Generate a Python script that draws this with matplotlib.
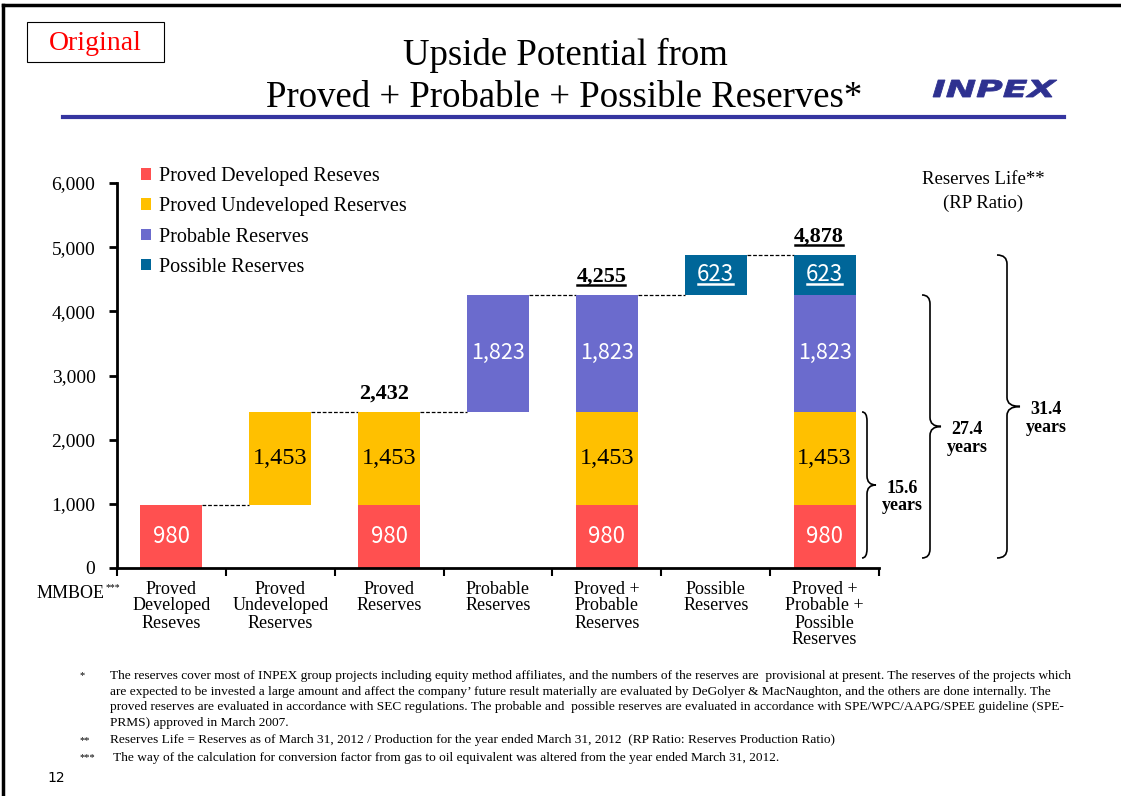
import numpy as np
import matplotlib
matplotlib.use("Agg")
import matplotlib.pyplot as plt
import matplotlib.transforms as mtransforms
from matplotlib.patches import Patch, Rectangle, PathPatch
from matplotlib.path import Path
from matplotlib.textpath import TextPath
from matplotlib.font_manager import FontProperties
from matplotlib.lines import Line2D
from matplotlib.ticker import StrMethodFormatter, FixedLocator

W, H = 1121, 796

# reserves by category, MMBOE
categories = ["Proved\nDeveloped\nReseves", "Proved\nUndeveloped\nReserves",
              "Proved\nReserves", "Probable\nReserves",
              "Proved +\nProbable\nReserves", "Possible\nReserves",
              "Proved +\nProbable +\nPossible\nReserves"]
developed = [980, 0, 980, 0, 980, 0, 980]
undeveloped = [0, 1453, 1453, 0, 1453, 0, 1453]
probable = [0, 0, 0, 1823, 1823, 0, 1823]
possible = [0, 0, 0, 0, 0, 623, 623]
floating = [False, True, False, True, False, True, False]

series_names = ["Proved Developed Reseves", "Proved Undeveloped Reserves",
                "Probable Reserves", "Possible Reserves"]
series_colors = ["#FF5050", "#FFC000", "#6B6BCD", "#006699"]

# subtotals written above the stacked bars
subtotal_idx = [2, 4, 6]
subtotal_values = [2432, 4255, 4878]
subtotal_underline = [False, True, True]

# reserves life (RP ratio) for each subtotal
life_years = [15.6, 27.4, 31.4]

footnotes = [
    ("*", ["The reserves cover most of INPEX group projects including equity method affiliates, and the numbers of the reserves are  provisional at present. The reserves of the projects which",
           "are expected to be invested a large amount and affect the company\u2019 future result materially are evaluated by DeGolyer & MacNaughton, and the others are done internally. The",
           "proved reserves are evaluated in accordance with SEC regulations. The probable and  possible reserves are evaluated in accordance with SPE/WPC/AAPG/SPEE guideline (SPE-",
           "PRMS) approved in March 2007."]),
    ("**", ["Reserves Life = Reserves as of March 31, 2012 / Production for the year ended March 31, 2012  (RP Ratio: Reserves Production Ratio)"]),
    ("***", [" The way of the calculation for conversion factor from gas to oil equivalent was altered from the year ended March 31, 2012."]),
]

SERIF = "Liberation Serif"
SANS = ["Noto Sans CJK JP", "DejaVu Sans"]
plt.rcParams["font.family"] = [SERIF, "DejaVu Serif"]


def fx(x):
    return x / W


def fy(y):
    return 1 - y / H


fig = plt.figure(figsize=(W / 100, H / 100), dpi=100)
ax = fig.add_axes([fx(117), fy(568), fx(879) - fx(117), fy(183) - fy(568)])

x = np.arange(len(categories))
width = 0.57
series = [np.array(developed), np.array(undeveloped), np.array(probable), np.array(possible)]

# floating bars start where the previous bar ends
base = np.zeros(len(x))
tops = np.zeros(len(x))
prev_top = 0
for i in range(len(x)):
    base[i] = prev_top if floating[i] else 0
    tops[i] = base[i] + sum(s[i] for s in series)
    prev_top = tops[i]

label_styles = [
    dict(color="white", family=SANS, fontsize=16),
    dict(color="black", family=SERIF, fontsize=17.5),
    dict(color="white", family=SANS, fontsize=15.5),
    dict(color="white", family=SANS, fontsize=16),
]
underline_texts = []

bottom = base.copy()
for vals, color, style, k in zip(series, series_colors, label_styles, range(4)):
    ax.bar(x, vals, width, bottom=bottom, color=color, zorder=2)
    for i in x:
        if vals[i] > 0:
            t = ax.text(i, bottom[i] + vals[i] / 2, f"{vals[i]:,}",
                        ha="center", va="center", zorder=3, **style)
            if k == 3:
                underline_texts.append((t, "white"))
    bottom = bottom + vals

# dashed connectors between consecutive bars
for i in range(len(x) - 1):
    ax.plot([i + width / 2, i + 1 - width / 2], [tops[i], tops[i]],
            color="black", lw=0.9, ls=(0, (3, 1.5)), zorder=1)

for i, v, ul in zip(subtotal_idx, subtotal_values, subtotal_underline):
    t = ax.text(i - 0.05, tops[i] + 280, f"{v:,}", ha="center", va="center",
                fontsize=16, fontweight="bold")
    if ul:
        underline_texts.append((t, "black"))

ax.set_xlim(-0.5, len(x) - 0.5)
ax.set_ylim(0, 6000)
ax.spines[["top", "right"]].set_visible(False)
for s in ["left", "bottom"]:
    ax.spines[s].set_linewidth(2)
ax.yaxis.set_major_locator(FixedLocator(np.arange(0, 6001, 1000)))
ax.yaxis.set_major_formatter(StrMethodFormatter("{x:,.0f}"))
ax.tick_params(axis="y", direction="out", length=6, width=2, pad=9.5, labelsize=14)
ax.set_xticks(x)
ax.set_xticklabels(categories, fontsize=13, linespacing=1.0)
ax.set_xticks(np.arange(-0.5, len(x)), minor=True)
ax.tick_params(axis="x", which="major", length=0, pad=9)
ax.tick_params(axis="x", which="minor", direction="out", length=6, width=1.5)

handles = [Patch(facecolor=c, edgecolor="none") for c in series_colors]
fig.legend(handles, series_names, loc="upper left",
           bbox_to_anchor=(fx(141), fy(167)), frameon=False, fontsize=14.5,
           borderpad=0, borderaxespad=0, handlelength=0.5, handleheight=0.5,
           handletextpad=0.4, labelspacing=0.56)

fig.text(fx(105), fy(593), "MMBOE", ha="right", va="center", fontsize=13)
fig.text(fx(106), fy(588), "***", ha="left", va="center", fontsize=7)

# title block
fig.text(fx(565), fy(55), "Upside Potential from", ha="center", va="center", fontsize=26.5)
fig.text(fx(564), fy(98), "Proved + Probable + Possible Reserves*", ha="center",
         va="center", fontsize=26.5)
fig.add_artist(Line2D([fx(63), fx(1064)], [fy(117), fy(117)], color="#3535A0", lw=3))
fig.add_artist(Rectangle((fx(27), fy(62)), fx(164) - fx(27), fy(22) - fy(62),
                         fill=False, edgecolor="black", lw=0.8))
fig.text(fx(95), fy(44), "Original", ha="center", va="center", fontsize=20, color="red")

# page frame
fig.add_artist(Line2D([fx(3), fx(3)], [0, fy(5)], color="black", lw=2.5))
fig.add_artist(Line2D([fx(3), 1], [fy(5), fy(5)], color="black", lw=2.5))

# logo
logo = TextPath((0, 0), "INPEX", size=40,
                prop=FontProperties(family="DejaVu Sans", weight="heavy", style="italic"))
ext = logo.get_extents()
sx = (1057 - 933) / ext.width
sy = (97 - 80) / ext.height
logo_tf = mtransforms.Affine2D().translate(-ext.x0, -ext.y0).scale(sx, sy).translate(933, H - 97)
fig.add_artist(PathPatch(logo_tf.transform_path(logo), facecolor="#2E3190",
                         edgecolor="#2E3190", lw=0.6,
                         transform=mtransforms.IdentityTransform()))

# reserves life braces
fig.text(fx(983), fy(179), "Reserves Life**", ha="center", va="center", fontsize=13.5)
fig.text(fx(983), fy(203), "(RP Ratio)", ha="center", va="center", fontsize=13.5)

brace_x = [867, 930, 1007]
brace_tip = [9, 11, 13]
brace_curl = [5, 8, 10]
for yrs, top, bx, tip, curl in zip(life_years, subtotal_values, brace_x, brace_tip, brace_curl):
    yb = ax.transData.transform((0, 0))[1] + 10
    yt = ax.transData.transform((0, top))[1]
    ym = (yb + yt) / 2
    r = 9
    verts = [(bx - curl, yb), (bx, yb), (bx, yb + r), (bx, ym - r), (bx, ym),
             (bx + tip, ym), (bx, ym), (bx, ym + r), (bx, yt - r), (bx, yt),
             (bx - curl, yt)]
    codes = [Path.MOVETO, Path.CURVE3, Path.CURVE3, Path.LINETO, Path.CURVE3,
             Path.CURVE3, Path.CURVE3, Path.CURVE3, Path.LINETO, Path.CURVE3,
             Path.CURVE3]
    fig.add_artist(PathPatch(Path(verts, codes), fill=False, lw=1.2, edgecolor="black",
                             transform=mtransforms.IdentityTransform()))
    fig.text((bx + tip + 26) / W, (ym - 12) / H, f"{yrs}\nyears", ha="center",
             va="center", fontsize=13, fontweight="bold", linespacing=1.05)

# footnotes
fy_line = 676
for mark, lines in footnotes:
    fig.text(fx(79), fy(fy_line), mark, ha="left", va="center", fontsize=7.5)
    for ln in lines:
        fig.text(fx(110), fy(fy_line), ln, ha="left", va="center", fontsize=9.6)
        fy_line += 15.7
    fy_line += 1.5

fig.text(fx(56), fy(778), "12", ha="center", va="center", fontsize=10, family="DejaVu Sans")

# underline the marked labels
fig.canvas.draw()
renderer = fig.canvas.get_renderer()
for t, c in underline_texts:
    bb = t.get_window_extent(renderer)
    yl = bb.y0 + 2
    fig.add_artist(Line2D([bb.x0 + 1, bb.x1 - 1], [yl, yl], color=c, lw=1.8,
                          transform=mtransforms.IdentityTransform()))

fig.savefig("out.png", dpi=100)
